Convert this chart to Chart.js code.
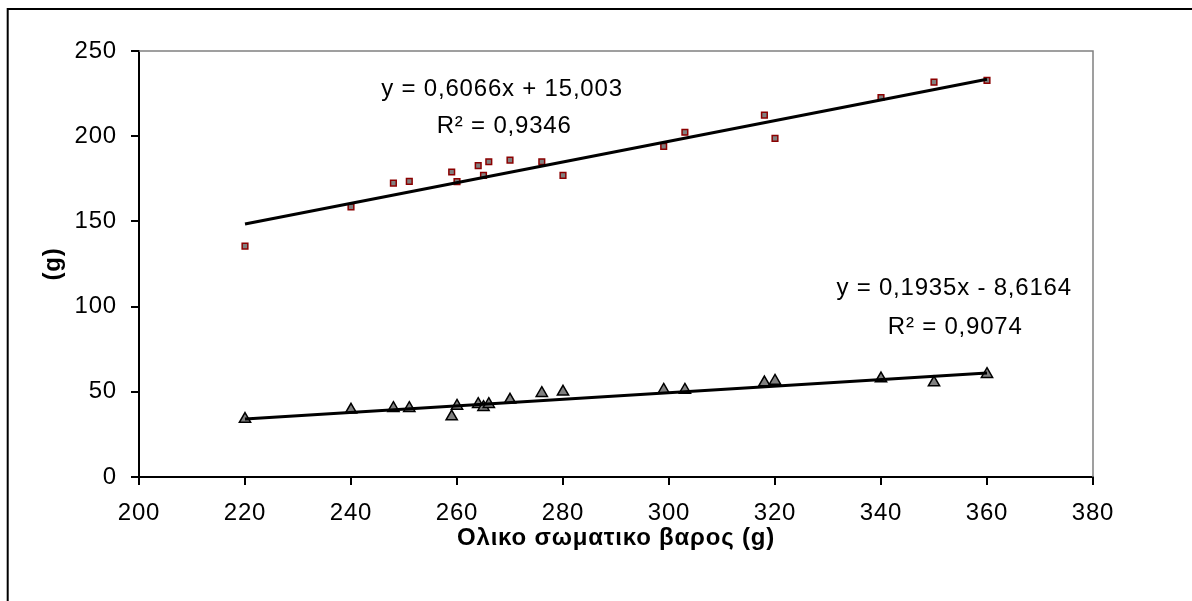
<!DOCTYPE html>
<html>
<head>
<meta charset="utf-8">
<script src="https://cdn.jsdelivr.net/npm/chart.js@4.4.1/dist/chart.umd.min.js"></script>
<style>
  html, body { margin: 0; padding: 0; background: #fff; }
  #contenedor { position: relative; width: 1192px; height: 601px; }
</style>
</head>
<body>
<div id="contenedor"><canvas id="grafico"></canvas></div>
<script>
// peso total (eje x) y las dos series medidas
var pesoTotal = [220, 240, 248, 251, 259, 260, 264, 265, 266, 270, 276, 280, 299, 303, 318, 320, 340, 350, 360];
var serieAlta = [135.5, 158.5, 172.5, 173.5, 179, 173.3, 182.7, 177, 185, 186, 185, 177, 194, 202.3, 212.4, 198.7, 222.7, 231.7, 232.8];
var serieBaja = [34, 39.4, 40.4, 40.4, 35.5, 41.7, 42.7, 41, 42.7, 45.3, 49.2, 50, 51.1, 51.1, 55.4, 56.4, 57.8, 55.4, 60.3];

// extremos de las lineas de tendencia
var tendenciaX = [220, 360];
var tendenciaAlta = [148.5, 233.4];
var tendenciaBaja = [34.0, 61.0];

var ticksX = [200, 220, 240, 260, 280, 300, 320, 340, 360, 380];
var ticksY = [0, 50, 100, 150, 200, 250];

var ecuaciones = ['y = 0,6066x + 15,003', 'R² = 0,9346', 'y = 0,1935x - 8,6164', 'R² = 0,9074'];
var tituloX = 'Ολικο σωματικο βαρος (g)';
var tituloY = '(g)';

var fuente = '"Liberation Sans", Arial, sans-serif';

function aPuntos(xs, ys) {
  var puntos = [];
  for (var i = 0; i < xs.length; i++) {
    puntos.push({ x: xs[i], y: ys[i] });
  }
  return puntos;
}

// marco exterior y borde gris del area de trazado
const marcos = {
  id: 'marcos',
  beforeDraw(chart) {
    const ctx = chart.ctx;
    ctx.letterSpacing = '0.8px'; // el texto de Excel sale algo mas ancho
    ctx.save();
    ctx.strokeStyle = '#000';
    ctx.lineWidth = 2;
    ctx.strokeRect(7.7, 9, 1400, 800);
    ctx.restore();
  },
  beforeDatasetsDraw(chart) {
    const ctx = chart.ctx;
    const a = chart.chartArea;
    ctx.save();
    ctx.strokeStyle = '#808080';
    ctx.lineWidth = 1.5;
    ctx.beginPath();
    ctx.moveTo(a.left, a.top);
    ctx.lineTo(a.right, a.top);
    ctx.lineTo(a.right, a.bottom);
    ctx.stroke();
    ctx.restore();
  }
};

// ecuaciones de las rectas
const etiquetas = {
  id: 'etiquetas',
  afterDatasetsDraw(chart, args, opts) {
    const ctx = chart.ctx;
    const x = chart.scales.x;
    const y = chart.scales.y;
    ctx.save();
    ctx.font = '24px ' + fuente;
    ctx.fillStyle = '#000';
    ctx.textAlign = 'center';
    ctx.textBaseline = 'middle';
    opts.items.forEach(function(it, i) {
      ctx.fillText(ecuaciones[i], x.getPixelForValue(it.x), y.getPixelForValue(it.y));
    });
    ctx.restore();
  }
};

var ctxGrafico = document.getElementById('grafico').getContext('2d');

new Chart(ctxGrafico, {
  type: 'scatter',
  data: {
    datasets: [{
      label: 'tendencia alta',
      data: aPuntos(tendenciaX, tendenciaAlta),
      showLine: true,
      borderColor: '#000',
      borderWidth: 3,
      pointRadius: 0,
      order: 0
    }, {
      label: 'tendencia baja',
      data: aPuntos(tendenciaX, tendenciaBaja),
      showLine: true,
      borderColor: '#000',
      borderWidth: 3,
      pointRadius: 0,
      order: 0
    }, {
      label: 'serie alta',
      data: aPuntos(pesoTotal, serieAlta),
      pointStyle: 'rect',
      pointRadius: 4,
      borderWidth: 1.5,
      borderColor: '#8b0000',
      backgroundColor: '#808080',
      order: 1
    }, {
      label: 'serie baja',
      data: aPuntos(pesoTotal, serieBaja),
      pointStyle: 'triangle',
      pointRadius: 6.5,
      borderWidth: 1.5,
      borderColor: '#000',
      backgroundColor: '#808080',
      order: 1
    }]
  },
  options: {
    responsive: true,
    maintainAspectRatio: false,
    animation: false,
    layout: {
      padding: { left: 0, top: 51, right: 99, bottom: 0 }
    },
    plugins: {
      legend: { display: false },
      tooltip: { enabled: false },
      etiquetas: {
        items: [
          { x: 268.5, y: 227.5 },
          { x: 268.9, y: 205.5 },
          { x: 353.8, y: 110.5 },
          { x: 354, y: 88 }
        ]
      }
    },
    scales: {
      x: {
        type: 'linear',
        min: 200,
        max: 380,
        afterBuildTicks: function(s) { s.ticks = ticksX.map(function(v) { return { value: v }; }); },
        afterFit: function(s) { s.height = 124; },
        grid: { drawOnChartArea: false, tickLength: 8, color: '#000', lineWidth: 2 },
        border: { color: '#000', width: 2 },
        ticks: { color: '#000', font: { family: fuente, size: 24 }, padding: 14, maxRotation: 0, autoSkip: false },
        title: {
          display: true,
          text: tituloX,
          color: '#000',
          font: { family: fuente, size: 24, weight: 'bold' },
          padding: { top: 0, bottom: 48 }
        }
      },
      y: {
        type: 'linear',
        min: 0,
        max: 250,
        afterBuildTicks: function(s) { s.ticks = ticksY.map(function(v) { return { value: v }; }); },
        afterFit: function(s) { s.width = 139; },
        grid: { drawOnChartArea: false, tickLength: 8, color: '#000', lineWidth: 2 },
        border: { color: '#000', width: 2 },
        ticks: { color: '#000', font: { family: fuente, size: 24 }, padding: 14 },
        title: {
          display: true,
          text: tituloY,
          color: '#000',
          font: { family: fuente, size: 24, weight: 'bold' },
          padding: { top: 39, bottom: 0 }
        }
      }
    }
  },
  plugins: [marcos, etiquetas]
});
</script>
</body>
</html>
